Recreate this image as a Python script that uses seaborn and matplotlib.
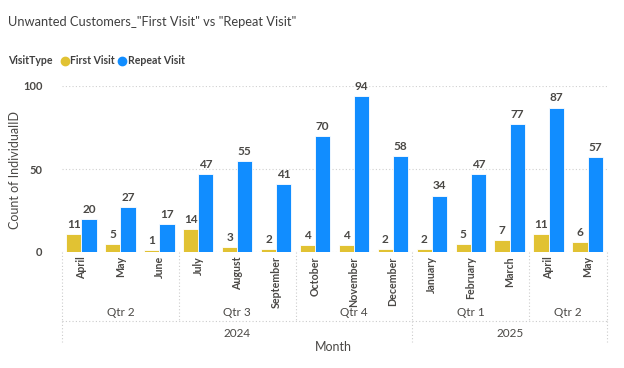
import pandas as pd
import matplotlib.pyplot as plt
import seaborn as sns
from matplotlib.lines import Line2D

# data
months = ['April', 'May', 'June', 'July', 'August', 'September', 'October',
          'November', 'December', 'January', 'February', 'March', 'April', 'May']
quarters = ['Qtr 2', 'Qtr 2', 'Qtr 2', 'Qtr 3', 'Qtr 3', 'Qtr 3', 'Qtr 4',
            'Qtr 4', 'Qtr 4', 'Qtr 1', 'Qtr 1', 'Qtr 1', 'Qtr 2', 'Qtr 2']
years = ['2024'] * 9 + ['2025'] * 5
first_visit = [11, 5, 1, 14, 3, 2, 4, 4, 2, 2, 5, 7, 11, 6]
repeat_visit = [20, 27, 17, 47, 55, 41, 70, 94, 58, 34, 47, 77, 87, 57]

keys = [f'{y}-{q}-{m}' for y, q, m in zip(years, quarters, months)]
df = pd.DataFrame({
    'key': keys * 2,
    'VisitType': ['First Visit'] * len(keys) + ['Repeat Visit'] * len(keys),
    'count': first_visit + repeat_visit,
})

sns.set_style('white')
plt.rcParams['font.family'] = ['Lato', 'DejaVu Sans']

yellow = '#E1C233'
blue = '#118DFF'
dark = '#4A4845'

fig = plt.figure(figsize=(6.24, 3.68), dpi=100)
ax = fig.add_axes([62 / 624, 1 - 252 / 368, 545 / 624, 166 / 368])

sns.barplot(data=df, x='key', y='count', hue='VisitType', order=keys,
            hue_order=['First Visit', 'Repeat Visit'],
            palette=[yellow, blue], saturation=1, width=0.78,
            edgecolor='white', linewidth=0.6, ax=ax, legend=False)

for c in ax.containers:
    ax.bar_label(c, padding=3, fontsize=8.5, color=dark, fontweight='bold')

ax.set_ylim(0, 100)
ax.set_xlim(-0.5, len(keys) - 0.5)
ax.set_yticks([0, 50, 100])
ax.tick_params(axis='y', labelsize=8, labelcolor=dark, length=0, pad=14)
for t in ax.get_yticklabels():
    t.set_fontweight('bold')
ax.yaxis.grid(True, color='#D0D0D0', linestyle=(0, (1, 2)), linewidth=0.8)
ax.set_axisbelow(True)
for s in ax.spines.values():
    s.set_visible(False)

ax.set_xticks(range(len(keys)))
ax.set_xticklabels(months, rotation=90, fontsize=7.7, color=dark,
                   fontweight='bold', va='top')
ax.tick_params(axis='x', length=0, pad=3)
ax.set_xlabel('')
ax.set_ylabel('')
fig.text(15 / 624, 1 - 170 / 368, 'Count of IndividualID', rotation=90,
         ha='center', va='center', fontsize=9, color=dark)

# hierarchical axis: quarters and years
tr = ax.get_xaxis_transform()
dot = dict(color='#CCCCCC', linestyle=(0, (1, 2)), linewidth=0.8,
           transform=tr, clip_on=False)
y_q, y_sep, y_year, y_end = -0.365, -0.415, -0.49, -0.545

groups = []
start = 0
for i in range(1, len(keys) + 1):
    if i == len(keys) or (years[i], quarters[i]) != (years[start], quarters[start]):
        groups.append((start, i - 1, quarters[start]))
        start = i
for a, b, q in groups:
    ax.text((a + b) / 2, y_q, q, transform=tr, ha='center', va='center',
            fontsize=8.5, color=dark)
    ax.plot([a - 0.5, a - 0.5], [0, y_sep], **dot)
ax.plot([len(keys) - 0.5] * 2, [0, y_sep], **dot)
ax.plot([-0.5, len(keys) - 0.5], [y_sep, y_sep], **dot)

ystart = 0
for i in range(1, len(keys) + 1):
    if i == len(keys) or years[i] != years[ystart]:
        ax.text((ystart + i - 1) / 2, y_year, years[ystart], transform=tr,
                ha='center', va='center', fontsize=8.5, color=dark)
        ax.plot([ystart - 0.5] * 2, [y_sep, y_end], **dot)
        ystart = i
ax.plot([len(keys) - 0.5] * 2, [y_sep, y_end], **dot)

fig.text(333 / 624, 1 - 347 / 368, 'Month', ha='center', va='center',
         fontsize=9, color=dark)

# title and legend
fig.text(8 / 624, 1 - 22 / 368, 'Unwanted Customers_"First Visit" vs "Repeat Visit"',
         fontsize=9.3, color='#404040', va='center')
fig.text(8 / 624, 1 - 61 / 368, 'VisitType', fontsize=7.6, fontweight='bold',
         color='#404040', va='center')
handles = [Line2D([], [], marker='o', linestyle='', color=yellow, markersize=6),
           Line2D([], [], marker='o', linestyle='', color=blue, markersize=6)]
leg = fig.legend(handles, ['First Visit', 'Repeat Visit'], loc='center left',
                 bbox_to_anchor=(55 / 624, 1 - 61 / 368), ncol=2, frameon=False,
                 handletextpad=0.1, columnspacing=0.35, handlelength=0.8,
                 prop={'size': 7.6, 'weight': 'bold'}, borderpad=0)
for t in leg.get_texts():
    t.set_color('#404040')

fig.savefig('out.png', dpi=100)
